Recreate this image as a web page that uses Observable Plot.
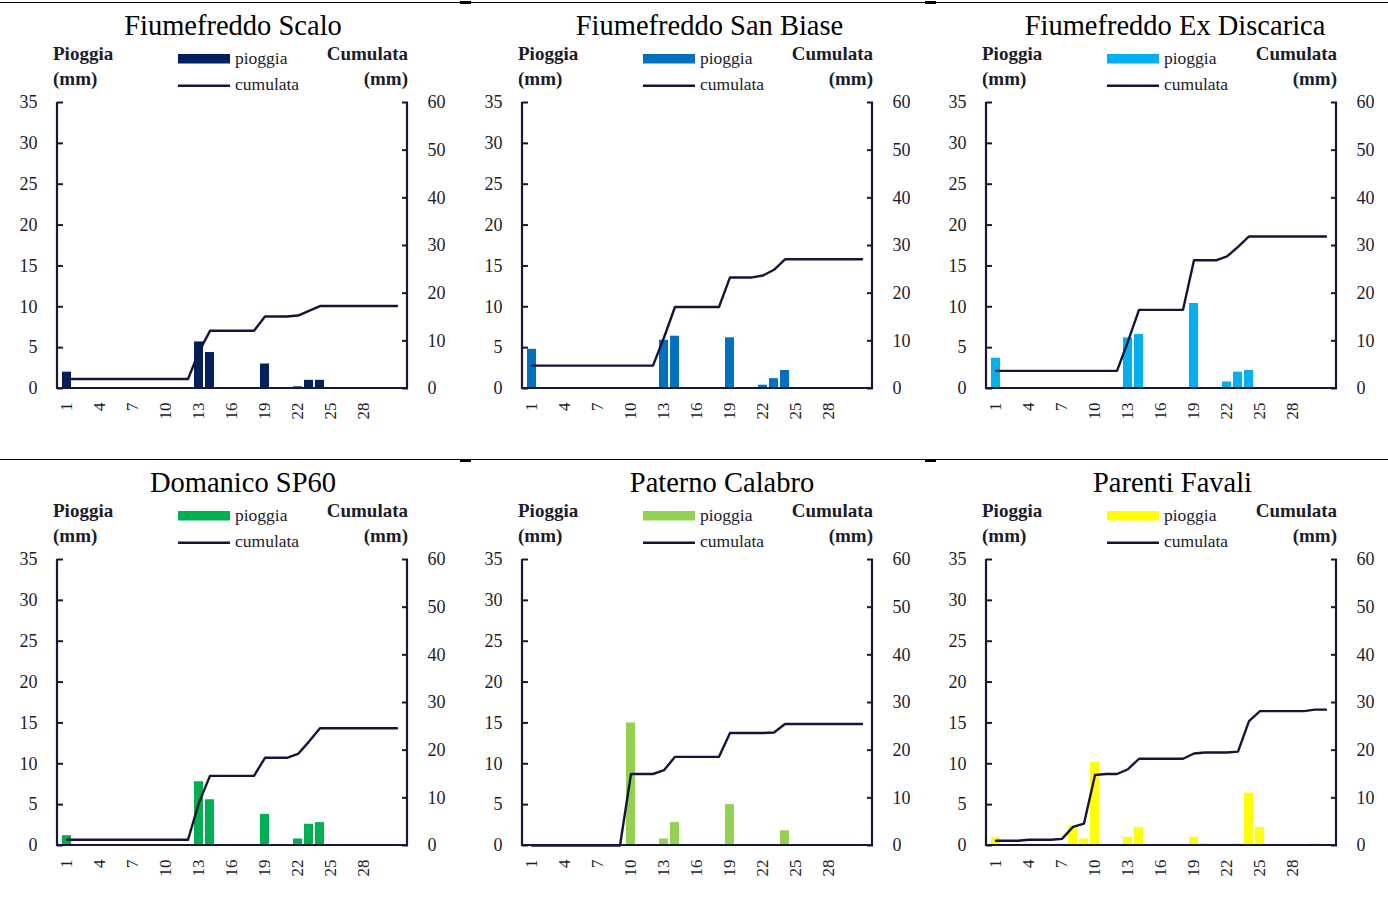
<!DOCTYPE html>
<html>
<head>
<meta charset="utf-8">
<script src="https://cdn.jsdelivr.net/npm/d3@7"></script>
<script src="https://cdn.jsdelivr.net/npm/@observablehq/plot@0.6"></script>
<style>
  body { margin: 0; background: #fff; }
  #page { position: relative; width: 1388px; height: 913px; overflow: hidden; background: #fff; font-family: "Liberation Serif", serif; }
  .panel { position: absolute; width: 465px; height: 450px; }
  .sep { position: absolute; left: 0; width: 1388px; height: 1px; background: #000; }
  .sepk { position: absolute; width: 11px; height: 3px; background: #000; }
</style>
</head>
<body>
<div id="page"></div>
<script>
// ---------- DATA ----------
const days = [1,2,3,4,5,6,7,8,9,10,11,12,13,14,15,16,17,18,19,20,21,22,23,24,25,26,27,28,29,30,31];
const xTickDays = [1,4,7,10,13,16,19,22,25,28];
const rainTicks = [0,5,10,15,20,25,30,35];
const cumTicks = [0,10,20,30,40,50,60];

const stations = ["Fiumefreddo Scalo", "Fiumefreddo San Biase", "Fiumefreddo Ex Discarica",
                  "Domanico SP60", "Paterno Calabro", "Parenti Favali"];
const seriesNames = ["pioggia", "cumulata"];
const leftAxisTitle = ["Pioggia", "(mm)"];
const rightAxisTitle = ["Cumulata", "(mm)"];

const rainScalo   = [2.0,0,0,0,0,0,0,0,0,0,0,0,5.7,4.4,0,0,0,0,3.0,0,0,0.2,1.0,1.0,0,0,0,0,0,0,0];
const cumScalo    = [2.0,2.0,2.0,2.0,2.0,2.0,2.0,2.0,2.0,2.0,2.0,2.0,7.7,12.1,12.1,12.1,12.1,12.1,15.1,15.1,15.1,15.3,16.3,17.3,17.3,17.3,17.3,17.3,17.3,17.3,17.3];

const rainBiase   = [4.8,0,0,0,0,0,0,0,0,0,0,0,5.9,6.4,0,0,0,0,6.2,0,0,0.4,1.2,2.2,0,0,0,0,0,0,0];
const cumBiase    = [4.8,4.8,4.8,4.8,4.8,4.8,4.8,4.8,4.8,4.8,4.8,4.8,10.7,17.1,17.1,17.1,17.1,17.1,23.3,23.3,23.3,23.7,24.9,27.1,27.1,27.1,27.1,27.1,27.1,27.1,27.1];

const rainDiscar  = [3.7,0,0,0,0,0,0,0,0,0,0,0,6.2,6.6,0,0,0,0,10.4,0,0,0.8,2.0,2.2,0,0,0,0,0,0,0];
const cumDiscar   = [3.7,3.7,3.7,3.7,3.7,3.7,3.7,3.7,3.7,3.7,3.7,3.7,9.9,16.5,16.5,16.5,16.5,16.5,26.9,26.9,26.9,27.7,29.7,31.9,31.9,31.9,31.9,31.9,31.9,31.9,31.9];

const rainDomanico = [1.2,0,0,0,0,0,0,0,0,0,0,0,7.8,5.6,0,0,0,0,3.8,0,0,0.8,2.6,2.8,0,0,0,0,0,0,0];
const cumDomanico  = [1.2,1.2,1.2,1.2,1.2,1.2,1.2,1.2,1.2,1.2,1.2,1.2,9.0,14.6,14.6,14.6,14.6,14.6,18.4,18.4,18.4,19.2,21.8,24.6,24.6,24.6,24.6,24.6,24.6,24.6,24.6];

const rainPaterno = [0,0,0,0,0,0,0,0,0,15.0,0,0,0.8,2.8,0,0,0,0,5.0,0,0,0,0.1,1.8,0,0,0,0,0,0,0];
const cumPaterno  = [0,0,0,0,0,0,0,0,0,15.0,15.0,15.0,15.8,18.6,18.6,18.6,18.6,18.6,23.6,23.6,23.6,23.6,23.7,25.5,25.5,25.5,25.5,25.5,25.5,25.5,25.5];

const rainParenti = [1.0,0,0,0.2,0,0,0.2,2.4,0.8,10.2,0.1,0,1.0,2.2,0,0,0,0,1.0,0.2,0,0,0.2,6.4,2.2,0,0,0,0,0.2,0];
const cumParenti  = [1.0,1.0,1.0,1.2,1.2,1.2,1.4,3.9,4.6,14.8,15.0,15.0,16.0,18.2,18.2,18.2,18.2,18.2,19.3,19.5,19.5,19.5,19.7,26.1,28.2,28.2,28.2,28.2,28.2,28.5,28.5];

const rainSeries = [rainScalo, rainBiase, rainDiscar, rainDomanico, rainPaterno, rainParenti];
const cumSeries  = [cumScalo, cumBiase, cumDiscar, cumDomanico, cumPaterno, cumParenti];

// ---------- STYLE / LAYOUT ----------
const barColors = ["#002060", "#0070C0", "#00B0F0", "#00B050", "#92D050", "#FFFF00"];
const LINE = "#15153a";
const AXIS = "#17173a";
const TEXT = "#1c1c2c";
const colX = [0, 464.7, 929];
const rowY = [0, 457.3];
const titleCenter = [233, 244.5, 246, 243, 257, 243.5];

const page = document.getElementById("page");

// separator lines
[1.5, 459.3].forEach(y => {
  const l = document.createElement("div"); l.className = "sep"; l.style.top = y + "px"; page.appendChild(l);
  [460, 925].forEach(x => {
    const k = document.createElement("div"); k.className = "sepk";
    k.style.top = (y - 0.5) + "px"; k.style.left = x + "px"; page.appendChild(k);
  });
});

// convert cumulative (right axis 0-60) to left axis units (0-35)
const cumToRain = d3.scaleLinear().domain([0, 60]).range([0, 35]);

function frameLines(index, scales, values, dims) {
  const {width, height, marginLeft, marginRight, marginTop, marginBottom} = dims;
  const x1 = marginLeft, x2 = width - marginRight, y1 = marginTop, y2 = height - marginBottom;
  return d3.create("svg:path")
    .attr("d", `M${x1},${y1}V${y2}H${x2}V${y1}`)
    .attr("fill", "none").attr("stroke", AXIS).attr("stroke-width", 2.2)
    .node();
}

stations.forEach((name, i) => {
  const rows = days.map((d, j) => ({day: d, rain: rainSeries[i][j], cum: cumSeries[i][j]}));
  const svg = Plot.plot({
    width: 465, height: 450,
    marginLeft: 57, marginRight: 58, marginTop: 102, marginBottom: 62,
    style: {fontFamily: "'Liberation Serif', serif", fontSize: "18px", color: AXIS, background: "transparent", overflow: "visible"},
    x: {type: "band", domain: days, paddingInner: 0.16, paddingOuter: 0.08, align: 0.5, label: null},
    y: {domain: [0, 35], label: null},
    marks: [
      Plot.barY(rows, {x: "day", y: "rain", fill: barColors[i]}),
      Plot.line(rows, {x: "day", y: d => cumToRain(d.cum), stroke: LINE, strokeWidth: 2.4}),
      frameLines,
      Plot.axisY(rainTicks, {anchor: "left", label: null, tickSize: -6, tickPadding: 26, strokeWidth: 2, stroke: AXIS, fill: TEXT, fontSize: 18}),
      Plot.axisY(cumTicks.map(v => cumToRain(v)), {anchor: "right", label: null, tickSize: -6, tickPadding: 26, strokeWidth: 2, stroke: AXIS, fill: TEXT, fontSize: 18,
        tickFormat: v => String(Math.round(cumToRain.invert(v)))}),
      Plot.axisX(xTickDays, {anchor: "bottom", label: null, tickSize: 0, tickPadding: 14, tickRotate: -90, fill: TEXT, fontSize: 17})
    ]
  });

  const s = d3.select(svg);
  const font = "'Liberation Serif', serif";
  const addText = (x, y, anchor, size, weight, fill, txt) =>
    s.append("text").attr("x", x).attr("y", y).attr("text-anchor", anchor)
      .style("font-family", font).style("font-size", size + "px").style("font-weight", weight)
      .attr("fill", fill).text(txt);

  addText(titleCenter[i], 35, "middle", 28.5, "normal", "#000", name);
  addText(53, 59.5, "start", 19, "bold", TEXT, leftAxisTitle[0]);
  addText(53, 84.5, "start", 19, "bold", TEXT, leftAxisTitle[1]);
  addText(408, 59.5, "end", 19, "bold", TEXT, rightAxisTitle[0]);
  addText(408, 84.5, "end", 19, "bold", TEXT, rightAxisTitle[1]);
  // legend
  s.append("rect").attr("x", 178).attr("y", 54).attr("width", 52).attr("height", 9.5).attr("fill", barColors[i]);
  addText(235, 63.5, "start", 17.5, "normal", TEXT, seriesNames[0]);
  s.append("line").attr("x1", 178).attr("x2", 230).attr("y1", 85.7).attr("y2", 85.7)
    .attr("stroke", LINE).attr("stroke-width", 2.6);
  addText(235, 90, "start", 17.5, "normal", TEXT, seriesNames[1]);

  const div = document.createElement("div");
  div.className = "panel";
  div.style.left = colX[i % 3] + "px";
  div.style.top = rowY[Math.floor(i / 3)] + "px";
  div.appendChild(svg);
  page.appendChild(div);
});
</script>
</body>
</html>
